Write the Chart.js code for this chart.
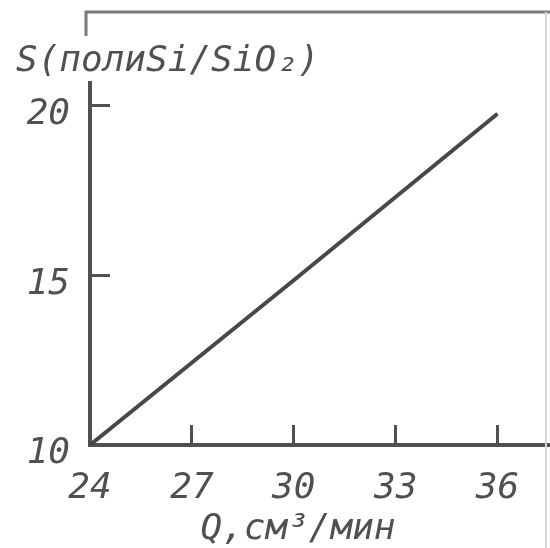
<!DOCTYPE html>
<html lang="ru">
<head>
<meta charset="utf-8">
<title>S(полиSi/SiO₂) от Q</title>
<script src="https://cdn.jsdelivr.net/npm/chart.js@4.4.1/dist/chart.umd.min.js"></script>
<style>
    html, body { margin: 0; padding: 0; background: #fff; }
    #wrap { width: 550px; height: 548px; position: relative; }
</style>
</head>
<body>
<div id="wrap"><canvas id="chart"></canvas></div>
<script>
// =====
// Data
// =====
const flowRates = [24, 30, 36];          // Q, см³/мин
const ratioValues = [10, 14.85, 19.75];  // S(полиSi/SiO2)
const xTickValues = [24, 27, 30, 33, 36];
const yTickValues = [10, 15, 20];

const INK = '#505050';
// stencil-like lettering: evenly spaced glyphs
const FONT = '"DejaVu Sans Mono", "Liberation Mono", monospace';

// =====================
// Sheet frame + axis run
// =====================
const framePlugin = {
    id: 'sheetFrame',
    afterDraw(chart) {
        const ctx = chart.ctx;
        const area = chart.chartArea;
        const w = chart.width;
        const h = chart.height;
        const frameLeft = area.left - 4;

        ctx.save();
        ctx.lineCap = 'butt';

        // bottom axis keeps running to the sheet edge
        ctx.strokeStyle = INK;
        ctx.lineWidth = 4;
        ctx.beginPath();
        ctx.moveTo(area.right - 1, area.bottom);
        ctx.lineTo(w, area.bottom);
        ctx.stroke();

        // top border of the neighbouring panel
        ctx.strokeStyle = '#7a7a7a';
        ctx.lineWidth = 3;
        ctx.beginPath();
        ctx.moveTo(frameLeft, 36);
        ctx.lineTo(frameLeft, 12);
        ctx.lineTo(w, 12);
        ctx.stroke();

        // faint right border
        ctx.strokeStyle = '#d8d8d8';
        ctx.lineWidth = 2;
        ctx.beginPath();
        ctx.moveTo(w - 4, 12);
        ctx.lineTo(w - 4, h);
        ctx.stroke();

        ctx.restore();
    }
};

const ctx = document.getElementById('chart').getContext('2d');
new Chart(ctx, {
    type: 'line',
    data: {
        datasets: [{
            data: flowRates.map((q, i) => ({ x: q, y: ratioValues[i] })),
            borderColor: '#484848',
            borderWidth: 4,
            pointRadius: 0,
            tension: 0,
            fill: false
        }]
    },
    options: {
        responsive: true,
        maintainAspectRatio: false,
        animation: false,
        layout: { padding: { left: 16, right: 44, top: 0, bottom: 0 } },
        plugins: {
            legend: { display: false },
            tooltip: { enabled: false },
            title: {
                display: true,
                text: 'S(полиSi/SiO₂)',
                align: 'start',
                color: INK,
                font: { family: FONT, size: 36, style: 'italic', weight: 'normal', lineHeight: 1.2 },
                padding: { top: 40, bottom: 0 }
            }
        },
        scales: {
            x: {
                type: 'linear',
                min: 24,
                max: 36.25,
                afterBuildTicks: scale => {
                    scale.ticks = xTickValues.map(v => ({ value: v }));
                },
                afterFit: scale => {
                    scale.height = 103;
                    // labels never reach the edges, no side padding needed
                    scale.paddingLeft = 0;
                    scale.paddingRight = 0;
                },
                grid: {
                    drawOnChartArea: false,
                    drawTicks: true,
                    tickLength: -20,
                    tickWidth: 3,
                    tickColor: INK
                },
                border: { display: true, color: INK, width: 4 },
                ticks: {
                    color: INK,
                    padding: 42,
                    maxRotation: 0,
                    autoSkip: false,
                    font: { family: FONT, size: 36, style: 'italic' }
                },
                title: {
                    display: true,
                    text: 'Q,см³/мин',
                    color: INK,
                    font: { family: FONT, size: 36, style: 'italic', lineHeight: 1 },
                    padding: { top: 0, bottom: 0 }
                }
            },
            y: {
                type: 'linear',
                min: 10,
                max: 20.65,
                afterBuildTicks: scale => {
                    scale.ticks = yTickValues.map(v => ({ value: v }));
                },
                afterFit: scale => { scale.width = 74; },
                grid: {
                    drawOnChartArea: false,
                    drawTicks: true,
                    tickLength: -20,
                    tickWidth: 3,
                    tickColor: INK
                },
                border: { display: true, color: INK, width: 4 },
                ticks: {
                    color: INK,
                    padding: 40,
                    labelOffset: 9,
                    autoSkip: false,
                    font: { family: FONT, size: 36, style: 'italic' }
                }
            }
        }
    },
    plugins: [framePlugin]
});
</script>
</body>
</html>
